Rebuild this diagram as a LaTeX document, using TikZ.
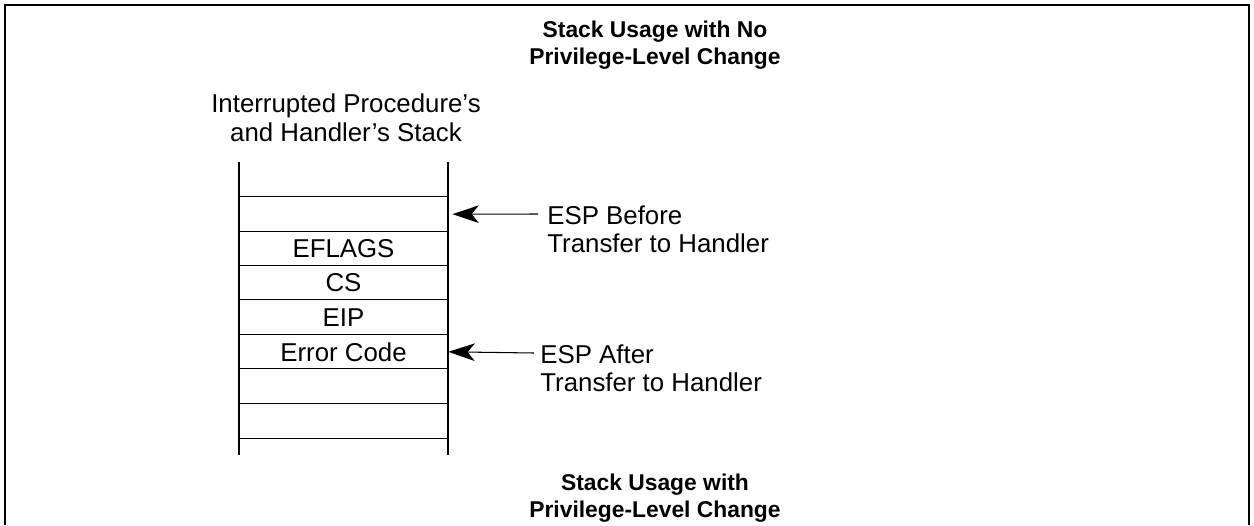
\documentclass[tikz,border=0pt]{standalone}
\usepackage{fontspec}
\setmainfont{Liberation Sans}
\usetikzlibrary{arrows.meta,calc}
\begin{document}
\begin{tikzpicture}[line cap=butt,line join=miter,x=0.02cm,y=-0.02cm,
    >={Stealth[length=15pt,width=10pt,inset=4pt]},
    cell/.style={minimum width=4.18cm,minimum height=0.688cm,inner sep=0pt,font=\fontsize{14.7}{16.4}\selectfont},
    lbl/.style={align=left,inner sep=0pt,font=\fontsize{14.7}{16.4}\selectfont},
    ttl/.style={align=center,inner sep=0pt,font=\fontsize{13}{15.3}\selectfont\bfseries},
    rule/.style={line width=0.6pt},
    rail/.style={line width=1pt}]
    \useasboundingbox (0,0) rectangle (1254,525);
    \draw [line width=1.2pt] (5,525) -- (5,5) -- (1249,5) -- (1249,525);
    \node[ttl] (topttl) at (655,45) {Stack Usage with No\\Privilege-Level Change};
    \node[ttl] (botttl) at (655,498) {Stack Usage with\\Privilege-Level Change};
    \node[lbl,align=center] (stackname) at (346,118) {Interrupted Procedure's\\and Handler's Stack};
    \foreach \t [count=\i] in {{},EFLAGS,CS,EIP,Error Code,{},{}}
        \node[cell] (c\i) at (343.5,179.8+34.4*\i) {\t};
    \foreach \i in {1,...,7}
        \draw [rule] (c\i.north west) -- (c\i.north east);
    \draw [rule] (c7.south west) -- (c7.south east);
    \draw [rail] ($(c1.north west)+(0,-35)$) -- ($(c7.south west)+(0,17)$);
    \draw [rail] ($(c1.north east)+(0,-35)$) -- ($(c7.south east)+(0,17)$);
    \coordinate (espb) at (538,214);
    \coordinate (espa) at (534,353);
    \node[lbl,anchor=north west] (before) at (547,205) {ESP Before\\Transfer to Handler};
    \node[lbl,anchor=north west] (after) at (540,344) {ESP After\\Transfer to Handler};
    \draw [rule,->,shorten >=2.3pt] (espb) -- (c1.east);
    \draw [rule,->] (espa) -- (c5.east);
\end{tikzpicture}
\end{document}
